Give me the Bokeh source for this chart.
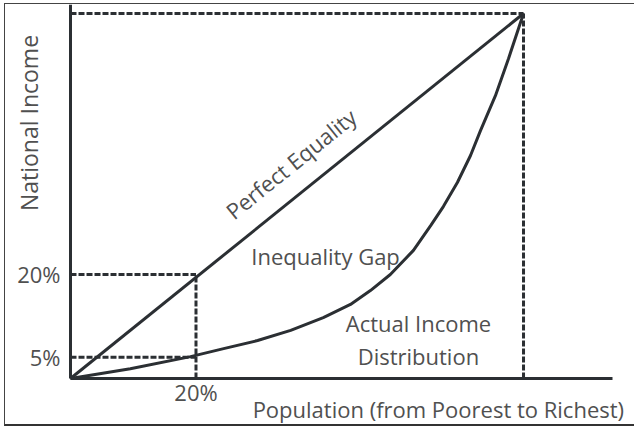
import math
from bokeh.plotting import figure
from bokeh.models import Label, FixedTicker, Range1d
from bokeh.embed import file_html
from bokeh.resources import INLINE

# ---- data (normalised shares) ----
population = [0.0, 0.132, 0.265, 0.338, 0.413, 0.486, 0.558, 0.618, 0.662, 0.706, 0.757,
              0.795, 0.823, 0.854, 0.883, 0.905, 0.938, 0.967, 1.0]
income     = [0.0, 0.027, 0.060, 0.082, 0.104, 0.132, 0.167, 0.203, 0.241, 0.285, 0.351,
              0.419, 0.471, 0.537, 0.611, 0.679, 0.775, 0.877, 1.0]
equality_x = [0.0, 1.0]
equality_y = [0.0, 1.0]

x_mark = 0.277            # "20%" of population
y_marks = [0.058, 0.285]  # "5%" and "20%" of income
x_tick_labels = ["20%"]
y_tick_labels = ["5%", "20%"]

INK = "#2b2f33"
TXT = "#505050"
FONT = "Open Sans"
FS = "22px"

X0, X1 = -0.1435, 1.2472
Y0, Y1 = -0.1342, 1.0247
X_AXIS_END = 1.1965

p = figure(width=630, height=423, output_backend="svg", toolbar_location=None,
           x_range=Range1d(X0, X1), y_range=Range1d(Y0, Y1),
           min_border_left=0, min_border_right=0, min_border_top=0, min_border_bottom=0)
p.styles = {"border-left": "1px solid #444", "border-top": "1px solid #444",
            "border-bottom": "2px solid #333", "margin-left": "4px", "margin-top": "3px"}
p.outline_line_color = None
p.grid.visible = False
p.background_fill_color = "white"
p.border_fill_color = "white"

xax = p.xaxis[0]
yax = p.yaxis[0]
xax.fixed_location = 0
yax.fixed_location = 0
xax.bounds = (0, X_AXIS_END)
yax.bounds = (0, Y1)

for ax in (xax, yax):
    ax.axis_line_width = 3
    ax.axis_line_color = INK
    ax.major_tick_line_color = None
    ax.minor_tick_line_color = None
    ax.major_tick_out = 0
    ax.major_tick_in = 0
    ax.minor_tick_out = 0
    ax.major_label_text_font = FONT
    ax.major_label_text_font_size = FS
    ax.major_label_text_color = TXT

xax.ticker = FixedTicker(ticks=[x_mark])
xax.major_label_overrides = {x_mark: x_tick_labels[0]}
xax.major_label_standoff = -2
yax.ticker = FixedTicker(ticks=y_marks)
yax.major_label_overrides = {y_marks[0]: y_tick_labels[0], y_marks[1]: y_tick_labels[1]}
yax.major_label_standoff = 10

# dashed guide lines
dash = "6 2"
p.line([0, 1], [1, 1], line_color=INK, line_width=3, line_dash=dash)
p.line([1, 1], [0, 1], line_color=INK, line_width=3, line_dash=dash)
p.line([0, x_mark], [y_marks[1], y_marks[1]], line_color=INK, line_width=3, line_dash=dash)
p.line([x_mark, x_mark], [0, y_marks[1]], line_color=INK, line_width=3, line_dash=dash)
p.line([0, x_mark], [y_marks[0], y_marks[0]], line_color=INK, line_width=3, line_dash=dash)

# curves
p.line(equality_x, equality_y, line_color=INK, line_width=3)
p.line(population, income, line_color=INK, line_width=3)

def lab(x, y, t, angle=0.0, size=FS):
    p.add_layout(Label(x=x, y=y, text=t, angle=angle, text_align="center", text_baseline="middle",
                       text_font=FONT, text_font_size=size, text_color=TXT))

lab(0.486, 0.589, "Perfect Equality", math.radians(38.9))
lab(0.563, 0.337, "Inequality Gap")
lab(0.768, 0.151, "Actual Income")
lab(0.768, 0.063, "Distribution")
lab(-0.0927, 0.700, "National Income", math.pi / 2, "23px")
lab(0.812, -0.0822, "Population (from Poorest to Richest)")

open("out.html", "w").write(file_html(p, INLINE))
